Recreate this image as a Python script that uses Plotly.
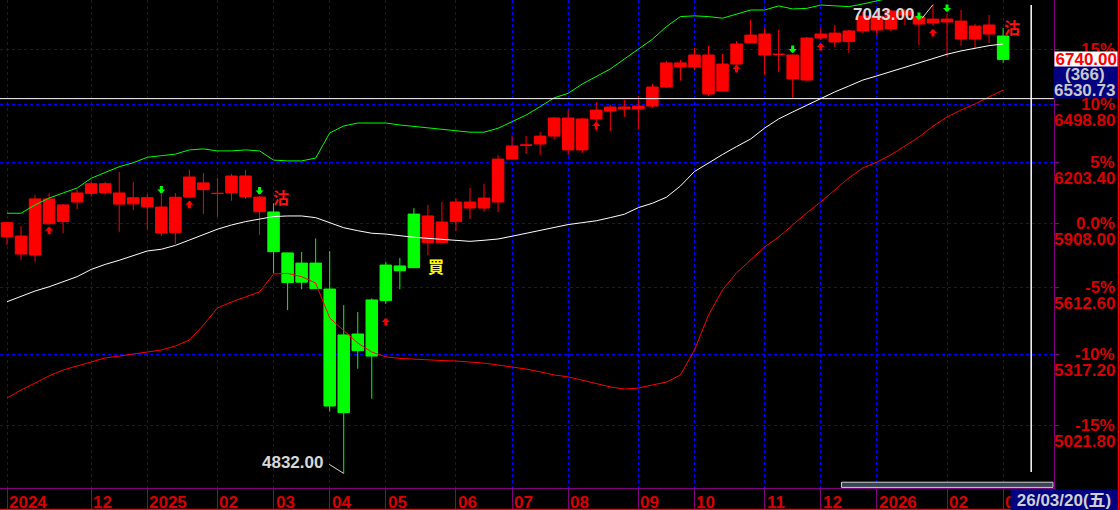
import numpy as np
import plotly.graph_objects as go

# weekly bars, oldest first (index 0 = Oct 2024 week)
opens = [5845, 5764, 5759, 5906, 5916, 6010, 6052, 6055, 6000, 6001,
         5987, 5862, 5864, 6034, 6070, 6051, 6055, 6036, 5963, 5962,
         5769, 5722, 5722, 5604, 5401, 5405, 5555, 5713, 5709, 5952,
         5817, 5817, 5916, 5981, 5981, 6010, 6221, 6290, 6297, 6337,
         6267, 6267, 6425, 6466, 6477, 6477, 6492, 6592, 6699, 6699,
         6555, 6571, 6715, 6830, 6764, 6767, 6635, 6629, 6857, 6835,
         6837, 6896, 6901, 6907, 6985, 6934, 6940, 6946, 6851, 6851,
         6879, 6868]
highs = [5914, 5895, 6044, 6054, 6000, 6068, 6109, 6108, 6157, 6108,
         6047, 6051, 6054, 6167, 6152, 6127, 6147, 6167, 6039, 6004,
         5770, 5773, 5837, 5778, 5532, 5501, 5562, 5728, 5746, 5981,
         5996, 6010, 6029, 6078, 6098, 6241, 6337, 6337, 6358, 6435,
         6471, 6430, 6513, 6497, 6524, 6545, 6608, 6731, 6737, 6802,
         6813, 6769, 6840, 6957, 6912, 6901, 6765, 6862, 6912, 6929,
         6901, 7002, 7007, 7013, 7019, 6979, 7043, 6990, 7013, 6934,
         6985, 6912]
lows = [5806, 5736, 5728, 5903, 5861, 5976, 6036, 6045, 5868, 5971,
        5879, 5848, 5811, 6032, 5952, 5939, 6016, 6026, 5853, 5675,
        5510, 5603, 5604, 5078, 4832, 5256, 5131, 5537, 5603, 5699,
        5759, 5815, 5871, 5928, 5962, 5962, 6219, 6247, 6242, 6322,
        6242, 6252, 6364, 6363, 6435, 6373, 6482, 6587, 6626, 6683,
        6545, 6569, 6712, 6828, 6656, 6672, 6529, 6628, 6846, 6808,
        6776, 6884, 6868, 6896, 6929, 6818, 6923, 6753, 6813, 6797,
        6830, 6721]
closes = [5911, 5848, 6025, 6025, 5996, 6054, 6099, 6099, 6054, 6031,
          6031, 5986, 6033, 6132, 6103, 6052, 6137, 6137, 6034, 5775,
          5633, 5635, 5606, 5101, 5074, 5333, 5310, 5552, 5687, 5701,
          5943, 5914, 6010, 6010, 6029, 6221, 6287, 6292, 6337, 6430,
          6430, 6425, 6471, 6487, 6487, 6492, 6592, 6721, 6721, 6764,
          6764, 6715, 6824, 6873, 6879, 6768, 6764, 6857, 6879, 6884,
          6896, 6979, 6979, 7007, 7007, 6974, 6962, 6962, 6951, 6923,
          6929, 6740]

# bollinger bands
bb_upper = [5956, 5956, 5996, 6029, 6054, 6078, 6126, 6156, 6183, 6203,
            6230, 6238, 6246, 6267, 6272, 6262, 6262, 6267, 6262, 6216,
            6212, 6212, 6226, 6353, 6389, 6404, 6404, 6404, 6394, 6386,
            6380, 6373, 6365, 6357, 6357, 6377, 6411, 6445, 6489, 6535,
            6559, 6608, 6648, 6688, 6742, 6795, 6850, 6920, 6976, 6980,
            6976, 6967, 6990, 7013, 7013, 7036, 7019, 7022, 7041, 7037,
            7032, 7047, 7064, 7085, 7100, 7110, 7115, 7110, 7100, 7090,
            7080, 7072]
bb_mid = [5547, 5570, 5595, 5614, 5637, 5660, 5693, 5716, 5735, 5755,
          5778, 5786, 5804, 5829, 5856, 5880, 5900, 5916, 5928, 5940,
          5943, 5943, 5935, 5911, 5887, 5873, 5861, 5857, 5849, 5842,
          5837, 5832, 5829, 5823, 5828, 5834, 5847, 5861, 5875, 5889,
          5902, 5911, 5920, 5935, 5951, 5983, 6004, 6033, 6088, 6159,
          6203, 6244, 6284, 6322, 6378, 6425, 6461, 6497, 6531, 6566,
          6597, 6629, 6651, 6674, 6699, 6722, 6745, 6768, 6786, 6800,
          6815, 6824]
bb_lower = [5134, 5167, 5196, 5226, 5251, 5268, 5285, 5302, 5310, 5319,
            5327, 5336, 5353, 5379, 5444, 5519, 5546, 5568, 5591, 5672,
            5675, 5660, 5631, 5475, 5422, 5366, 5327, 5307, 5300, 5296,
            5293, 5291, 5289, 5285, 5280, 5272, 5264, 5255, 5243, 5230,
            5222, 5209, 5196, 5180, 5171, 5175, 5188, 5200, 5230, 5336,
            5488, 5600, 5677, 5736, 5797, 5843, 5900, 5957, 6010, 6068,
            6127, 6177, 6206, 6242, 6287, 6332, 6388, 6435, 6471, 6503,
            6540, 6576]

month_pos = [0, 6, 10, 15, 19, 23, 27, 32, 36, 40, 45, 49, 54, 58, 62, 67, 71]
month_labels = ["2024", "12", "2025", "02", "03", "04", "05", "06", "07",
                "08", "09", "10", "11", "12", "2026", "02", "03"]

base_price = 5908.00
pct_levels = [15, 10, 5, 0, -5, -10, -15]

buy_arrow_idx = [3, 13, 27, 42, 52, 58, 66]
buy_arrow_px = [5892, 6016, 5475, 6410, 6710, 6830, 6907]
sell_arrow_idx = [11, 18, 56, 65, 67]
sell_arrow_px = [6051, 6046, 6775, 6957, 7002]

sig_idx = [19.55, 30.6, 71.6]
sig_px = [6034, 5709, 6917]
sig_text = ["沽", "買", "沽"]
sig_color = ["#ff1010", "#ffff00", "#ff1010"]

hi_idx, hi_val = 66, 7043.00
lo_idx, lo_val = 24, 4832.00
last_price = 6740.00
cursor_idx, cursor_price, cursor_count = 73, 6530.73, 366
cursor_date = "26/03/20(五)"

RED = "#d80000"
GRAY = "#d8d8d8"
PURPLE = "#800080"
W, H = 1120, 510
PW, PH = 1054, 488  # plot area in px
FONT = "Liberation Sans"

idx = list(range(len(opens)))
x_range = [-7 / 14.03, (PW - 7) / 14.03]

fig = go.Figure()
fig.add_trace(go.Candlestick(
    x=idx, open=opens, high=highs, low=lows, close=closes,
    increasing=dict(line=dict(color="#ff0000", width=1), fillcolor="#ff0000"),
    decreasing=dict(line=dict(color="#00ff00", width=1), fillcolor="#00ff00"),
    whiskerwidth=0, hoverinfo="skip", showlegend=False,
))
for vals, col in [(bb_upper, "#00ff00"), (bb_mid, "#ffffff"), (bb_lower, "#ff0000")]:
    fig.add_trace(go.Scatter(x=idx, y=vals, mode="lines",
                             line=dict(color=col, width=1), hoverinfo="skip",
                             showlegend=False))
# cursor horizontal line
fig.add_trace(go.Scatter(x=x_range, y=[cursor_price, cursor_price], mode="lines",
                         line=dict(color="#ffffff", width=1), hoverinfo="skip",
                         showlegend=False))

ann = []
# right axis labels
for lvl in pct_levels:
    val = base_price * (1 + lvl / 100)
    t = "0.0%" if lvl == 0 else f"{lvl}%"
    ann.append(dict(xref="paper", yref="y", x=1117 / PW, y=np.log10(val),
                    xanchor="right", yanchor="middle", showarrow=False,
                    text=f"<b>{t}</b>", font=dict(family=FONT, size=17, color=RED)))
    if lvl != 15:
        ann.append(dict(xref="paper", yref="y", x=1117 / PW, y=np.log10(val),
                        xanchor="right", yanchor="middle", yshift=-16, showarrow=False,
                        text=f"<b>{val:.2f}</b>", font=dict(family=FONT, size=17, color=RED)))
# month labels
for p, lab in zip(month_pos, month_labels):
    ann.append(dict(xref="x", yref="paper", x=p, y=0, xanchor="left", yanchor="middle",
                    xshift=0, yshift=-14, showarrow=False, text=f"<b>{lab}</b>",
                    font=dict(family=FONT, size=17, color=RED)))
# signal arrows
for i, p in zip(buy_arrow_idx, buy_arrow_px):
    ann.append(dict(x=i, y=np.log10(p), xref="x", yref="y", text="", showarrow=True,
                    ax=0, ay=9, arrowhead=1, arrowsize=0.45, arrowwidth=3,
                    arrowcolor="#ff0000", standoff=0))
for i, p in zip(sell_arrow_idx, sell_arrow_px):
    ann.append(dict(x=i, y=np.log10(p), xref="x", yref="y", text="", showarrow=True,
                    ax=0, ay=-9, arrowhead=1, arrowsize=0.45, arrowwidth=3,
                    arrowcolor="#00ff00", standoff=0))
for i, p, t, c in zip(sig_idx, sig_px, sig_text, sig_color):
    ann.append(dict(x=i, y=np.log10(p), xref="x", yref="y", text=f"<b>{t}</b>",
                    showarrow=False, font=dict(family="Noto Sans CJK TC", size=16, color=c)))
# high / low labels
ann.append(dict(x=hi_idx, y=np.log10(hi_val), text="", showarrow=True, ax=-12, ay=15,
                arrowhead=0, arrowwidth=1, arrowcolor=GRAY, standoff=0))
ann.append(dict(x=hi_idx, y=np.log10(hi_val), text=f"<b>{hi_val:.2f}</b>", showarrow=False,
                xanchor="right", yanchor="middle", xshift=-17, yshift=-10,
                font=dict(family=FONT, size=17, color=GRAY)))
ann.append(dict(x=lo_idx, y=np.log10(lo_val), text="", showarrow=True, ax=-16, ay=-10,
                arrowhead=0, arrowwidth=1, arrowcolor=GRAY, standoff=0))
ann.append(dict(x=lo_idx, y=np.log10(lo_val), text=f"<b>{lo_val:.2f}</b>", showarrow=False,
                xanchor="right", yanchor="middle", xshift=-19, yshift=11,
                font=dict(family=FONT, size=17, color=GRAY)))
# last price / cursor boxes
ann.append(dict(xref="paper", yref="y", x=1118 / PW, y=np.log10(last_price),
                xanchor="right", yanchor="middle", showarrow=False, bgcolor="#ffffff",
                borderpad=0, width=62, height=14, align="right",
                text=f"<b>{last_price:.2f}</b>", font=dict(family=FONT, size=17, color="#ff0000")))
ann.append(dict(xref="paper", yref="paper", x=1085 / PW, y=(PH - 74.5) / PH,
                xanchor="center", yanchor="middle", showarrow=False,
                text=f"<b>({cursor_count})</b>", font=dict(family=FONT, size=17, color="#c8c8c8")))
ann.append(dict(xref="paper", yref="paper", x=1117 / PW, y=(PH - 90) / PH,
                xanchor="right", yanchor="middle", showarrow=False,
                text=f"<b>{cursor_price:.2f}</b>", font=dict(family=FONT, size=17, color="#c8c8c8")))
ann.append(dict(xref="paper", yref="paper", x=1118 / PW, y=(PH - 499.5) / PH,
                xanchor="right", yanchor="middle", showarrow=False, bgcolor="#000080",
                borderpad=1, width=104, height=18,
                text=f"<b>{cursor_date}</b>",
                font=dict(family=FONT + ", Noto Sans CJK TC", size=17, color="#d0d0d0")))

shapes = [
    # navy cursor box on the axis
    dict(type="rect", xref="paper", yref="paper", x0=1053.5 / PW, x1=1117.5 / PW,
         y0=(PH - 98.5) / PH, y1=(PH - 66) / PH, fillcolor="#000080", line=dict(width=0),
         layer="above"),
    # cursor vertical line
    dict(type="line", xref="x", yref="paper", x0=cursor_idx, x1=cursor_idx,
         y0=(PH - 472) / PH, y1=(PH - 5) / PH, line=dict(color="#ffffff", width=1.5)),
    # scroll bar
    dict(type="rect", xref="paper", yref="paper", x0=841.5 / PW, x1=1053 / PW,
         y0=(PH - 487.4) / PH, y1=(PH - 482.2) / PH, fillcolor="#3a4656",
         line=dict(color="#d0d0d0", width=1), layer="above"),
    # red frame lines
    dict(type="line", xref="paper", yref="paper", x0=1118.5 / PW, x1=1118.5 / PW,
         y0=(PH - 509.5) / PH, y1=1, line=dict(color="#ff0000", width=1.5)),
    dict(type="line", xref="paper", yref="paper", x0=0, x1=1118.5 / PW,
         y0=(PH - 509.5) / PH, y1=(PH - 509.5) / PH, line=dict(color="#ff0000", width=1.5)),
]

fig.update_layout(
    width=W, height=H,
    margin=dict(l=0, r=W - PW, t=0, b=H - PH, pad=0),
    paper_bgcolor="#000000", plot_bgcolor="#000000",
    boxgap=0.18, boxgroupgap=0,
    showlegend=False,
    annotations=ann, shapes=shapes,
    xaxis=dict(range=x_range, tickvals=month_pos, showticklabels=False,
               showgrid=True, gridcolor="#0000ff", griddash="dot", gridwidth=1,
               zeroline=False, showline=True, linecolor=PURPLE, linewidth=1,
               ticks="outside", ticklen=21, tickcolor=PURPLE, tickwidth=1,
               rangeslider=dict(visible=False), fixedrange=True),
    yaxis=dict(type="log", range=[np.log10(4775.7), np.log10(7069.6)], side="right",
               tickvals=[base_price * (1 + l / 100) for l in pct_levels],
               showticklabels=False, showgrid=True, gridcolor="#0000ff", griddash="dot",
               gridwidth=1, zeroline=False, showline=True, linecolor=PURPLE, linewidth=1,
               ticks="outside", ticklen=4, tickcolor=PURPLE, fixedrange=True),
)

# page body has a default 8px margin; drop it so the chart fills the window
fig.write_html("out.html", config=dict(displayModeBar=False),
               post_script="document.body.style.margin='0';document.body.style.overflow='hidden';")
